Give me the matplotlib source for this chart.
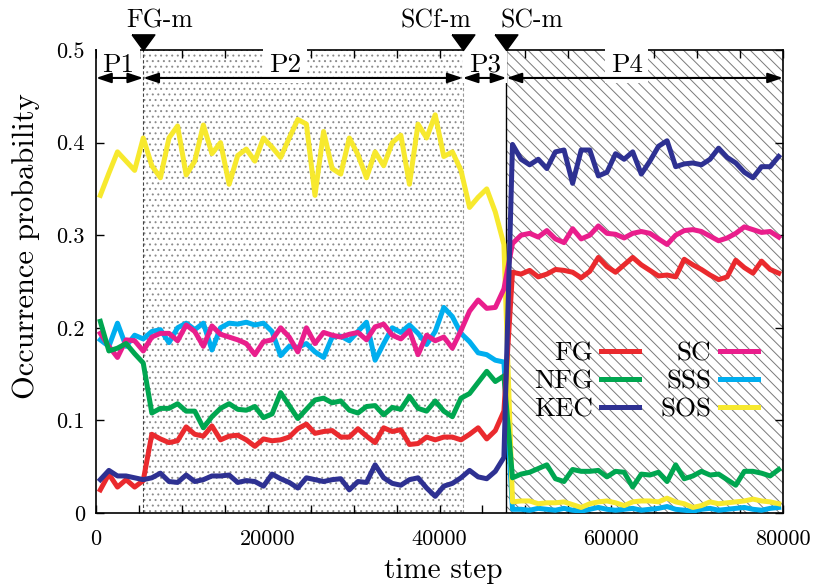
import numpy as np
import matplotlib
matplotlib.use("Agg")
import matplotlib.pyplot as plt
from matplotlib.ticker import MultipleLocator, FuncFormatter

plt.rcParams['font.family'] = 'cmr10'
plt.rcParams['axes.formatter.use_mathtext'] = True
plt.rcParams['hatch.linewidth'] = 0.7

# time steps (one sample per 1000-step bin)
steps = np.arange(500, 80000, 1000)

fg = [0.025, 0.042, 0.028, 0.036, 0.028, 0.035, 0.085, 0.080, 0.076, 0.078,
      0.093, 0.085, 0.083, 0.094, 0.079, 0.083, 0.084, 0.079, 0.072, 0.080,
      0.078, 0.079, 0.082, 0.091, 0.096, 0.086, 0.088, 0.089, 0.082, 0.082,
      0.091, 0.083, 0.076, 0.092, 0.088, 0.090, 0.074, 0.075, 0.082, 0.079,
      0.082, 0.082, 0.079, 0.085, 0.092, 0.080, 0.089, 0.110, 0.260, 0.258,
      0.262, 0.255, 0.258, 0.263, 0.262, 0.260, 0.254, 0.261, 0.276, 0.266,
      0.260, 0.268, 0.276, 0.268, 0.262, 0.256, 0.257, 0.255, 0.274, 0.268,
      0.263, 0.257, 0.252, 0.255, 0.273, 0.265, 0.259, 0.272, 0.263, 0.259]

nfg = [0.207, 0.175, 0.178, 0.183, 0.172, 0.162, 0.108, 0.113, 0.113, 0.118,
       0.110, 0.110, 0.092, 0.104, 0.113, 0.118, 0.112, 0.111, 0.115, 0.103,
       0.107, 0.130, 0.116, 0.102, 0.112, 0.122, 0.124, 0.119, 0.121, 0.111,
       0.108, 0.115, 0.116, 0.106, 0.114, 0.112, 0.126, 0.113, 0.110, 0.121,
       0.110, 0.104, 0.124, 0.129, 0.141, 0.153, 0.142, 0.148, 0.038, 0.042,
       0.044, 0.048, 0.052, 0.037, 0.034, 0.047, 0.045, 0.045, 0.046, 0.039,
       0.045, 0.044, 0.028, 0.042, 0.041, 0.044, 0.034, 0.052, 0.037, 0.040,
       0.045, 0.041, 0.042, 0.036, 0.030, 0.045, 0.045, 0.043, 0.040, 0.047]

kec = [0.036, 0.046, 0.040, 0.040, 0.038, 0.036, 0.038, 0.043, 0.034, 0.033,
       0.041, 0.034, 0.036, 0.040, 0.040, 0.041, 0.033, 0.035, 0.034, 0.029,
       0.042, 0.037, 0.033, 0.027, 0.038, 0.036, 0.034, 0.036, 0.037, 0.025,
       0.034, 0.033, 0.052, 0.038, 0.032, 0.030, 0.036, 0.038, 0.027, 0.018,
       0.029, 0.032, 0.038, 0.046, 0.039, 0.037, 0.045, 0.060, 0.398, 0.382,
       0.376, 0.382, 0.372, 0.390, 0.392, 0.356, 0.392, 0.392, 0.364, 0.368,
       0.388, 0.382, 0.390, 0.366, 0.380, 0.396, 0.402, 0.374, 0.377, 0.378,
       0.376, 0.382, 0.394, 0.384, 0.378, 0.368, 0.362, 0.374, 0.374, 0.385]

sc = [0.194, 0.180, 0.168, 0.187, 0.186, 0.175, 0.190, 0.194, 0.194, 0.186,
      0.203, 0.196, 0.180, 0.202, 0.193, 0.190, 0.187, 0.183, 0.171, 0.185,
      0.187, 0.200, 0.190, 0.174, 0.200, 0.183, 0.195, 0.192, 0.190, 0.193,
      0.195, 0.187, 0.201, 0.204, 0.192, 0.188, 0.197, 0.171, 0.192, 0.186,
      0.190, 0.178, 0.197, 0.218, 0.230, 0.221, 0.222, 0.242, 0.291, 0.300,
      0.302, 0.298, 0.305, 0.296, 0.292, 0.307, 0.296, 0.300, 0.310, 0.302,
      0.301, 0.297, 0.302, 0.304, 0.302, 0.296, 0.290, 0.300, 0.305, 0.306,
      0.304, 0.299, 0.294, 0.297, 0.302, 0.309, 0.306, 0.303, 0.304, 0.298]

sss = [0.187, 0.180, 0.205, 0.180, 0.192, 0.188, 0.196, 0.198, 0.184, 0.200,
       0.205, 0.198, 0.205, 0.176, 0.200, 0.205, 0.204, 0.206, 0.203, 0.205,
       0.196, 0.170, 0.180, 0.179, 0.183, 0.174, 0.168, 0.190, 0.191, 0.186,
       0.196, 0.206, 0.165, 0.183, 0.200, 0.195, 0.203, 0.194, 0.182, 0.196,
       0.222, 0.212, 0.194, 0.185, 0.173, 0.171, 0.165, 0.163, 0.004, 0.004,
       0.003, 0.005, 0.004, 0.003, 0.005, 0.003, 0.002, 0.004, 0.006, 0.004,
       0.003, 0.004, 0.005, 0.003, 0.004, 0.005, 0.007, 0.004, 0.003, 0.002,
       0.004, 0.005, 0.003, 0.004, 0.005, 0.006, 0.004, 0.003, 0.005, 0.006]

sos = [0.343, 0.367, 0.390, 0.380, 0.370, 0.405, 0.375, 0.362, 0.405, 0.418,
       0.365, 0.380, 0.419, 0.388, 0.400, 0.355, 0.386, 0.393, 0.380, 0.405,
       0.395, 0.384, 0.405, 0.425, 0.420, 0.343, 0.412, 0.372, 0.366, 0.405,
       0.387, 0.362, 0.390, 0.375, 0.400, 0.408, 0.355, 0.420, 0.405, 0.430,
       0.385, 0.390, 0.370, 0.330, 0.341, 0.350, 0.325, 0.290, 0.012, 0.013,
       0.013, 0.010, 0.011, 0.011, 0.012, 0.009, 0.006, 0.010, 0.012, 0.013,
       0.011, 0.008, 0.012, 0.013, 0.013, 0.012, 0.016, 0.012, 0.010, 0.006,
       0.008, 0.012, 0.010, 0.011, 0.012, 0.013, 0.015, 0.013, 0.012, 0.010]

# phase boundaries (mutation events) and labels
t_end = 80000
event_steps = [5500, 42700, 47800]
event_labels = ["FG-m", "SCf-m", "SC-m"]
event_label_shift = [12, -19, 18]          # points
phase_labels = ["P1", "P2", "P3", "P4"]
phase_label_x = [2600, 22000, 45300, 61800]

names = ["FG", "NFG", "KEC", "SC", "SSS", "SOS"]
values = [fg, nfg, kec, sc, sss, sos]
colors = ["#ea2a2e", "#00a650", "#2e3192", "#e91e8c", "#00aeef", "#f7e92e"]
draw_order = ["SSS", "SOS", "SC", "NFG", "FG", "KEC"]


def main():
    fig = plt.figure(figsize=(8.19, 5.87), dpi=100)
    ax = fig.add_axes([96 / 819, 74 / 587, 687 / 819, 463 / 587])

    # shaded phases
    ax.axvspan(event_steps[0], event_steps[1], facecolor='none', edgecolor='#8c8c8c',
               hatch='...', linewidth=0, zorder=0)
    ax.axvspan(event_steps[2], t_end, facecolor='none', edgecolor='#7a7a7a',
               hatch='\\\\\\', linewidth=0, zorder=0)
    ax.axvline(event_steps[0], color='#444444', lw=0.8, ls=(0, (3, 2)), zorder=1)
    ax.axvline(event_steps[1], color='#999999', lw=0.8, ls=(0, (3, 2)), zorder=1)
    ax.axvline(event_steps[2], color='black', lw=1.0, zorder=1)

    lines = {}
    for name in draw_order:
        i = names.index(name)
        lines[name], = ax.plot(steps, values[i], color=colors[i], lw=3.6, zorder=3)

    ax.set_xlim(0, t_end)
    ax.set_ylim(0, 0.5)

    # phase arrows and labels
    arrow_y = 0.4698
    bounds = [0] + event_steps + [t_end]
    for a, b in zip(bounds[:-1], bounds[1:]):
        ax.annotate('', xy=(a, arrow_y), xytext=(b, arrow_y), annotation_clip=False,
                    arrowprops=dict(arrowstyle='<|-|>,head_length=0.9,head_width=0.3',
                                    color='black', lw=1.5, shrinkA=0, shrinkB=0,
                                    mutation_scale=10),
                    zorder=6)
    for x, lab in zip(phase_label_x, phase_labels):
        ax.text(x, 0.4763, lab, ha='center', va='baseline', fontsize=19.5, zorder=5,
                bbox=dict(facecolor='white', edgecolor='none', pad=4), clip_on=False)

    # event markers above the frame
    tri = [(-0.73, 1), (0.73, 1), (0, 0), (-0.73, 1)]
    for x, lab, dx in zip(event_steps, event_labels, event_label_shift):
        ax.plot([x], [0.5], marker=tri, ms=22.5, color='black', clip_on=False,
                zorder=7, ls='none')
        ax.annotate(lab, xy=(x, 0.5), xytext=(dx, 16.5), textcoords='offset points',
                    ha='center', va='baseline', fontsize=18.5, annotation_clip=False)

    # axes styling
    ax.xaxis.set_major_locator(MultipleLocator(20000))
    ax.xaxis.set_minor_locator(MultipleLocator(5000))
    ax.yaxis.set_major_locator(MultipleLocator(0.1))
    ax.xaxis.set_major_formatter(FuncFormatter(lambda v, p: f"{v:.0f}"))
    ax.yaxis.set_major_formatter(FuncFormatter(lambda v, p: "0" if abs(v) < 1e-9 else f"{v:.1f}"))
    ax.tick_params(which='both', direction='in', top=True, right=True, width=1.0,
                   length=6, labelsize=16)
    ax.tick_params(axis='x', pad=12)
    ax.tick_params(axis='y', pad=8)
    for sp in ax.spines.values():
        sp.set_linewidth(1.2)

    ax.set_xlabel("time step", fontsize=21)
    ax.set_ylabel("Occurrence probability", fontsize=22)
    ax.xaxis.set_label_coords(0.505, -0.097)
    ax.yaxis.set_label_coords(-0.0815, 0.577)

    legend_order = ["FG", "NFG", "KEC", "SC", "SSS", "SOS"]
    ax.legend([lines[n] for n in legend_order], legend_order, ncol=2, markerfirst=False,
              frameon=False, fontsize=19.5, handlelength=1.4, handletextpad=0.3,
              columnspacing=0.8, labelspacing=0.15, loc='center',
              bbox_to_anchor=(0.80, 0.283))

    fig.savefig("out.png", dpi=100)
    plt.close(fig)


if __name__ == "__main__":
    main()
